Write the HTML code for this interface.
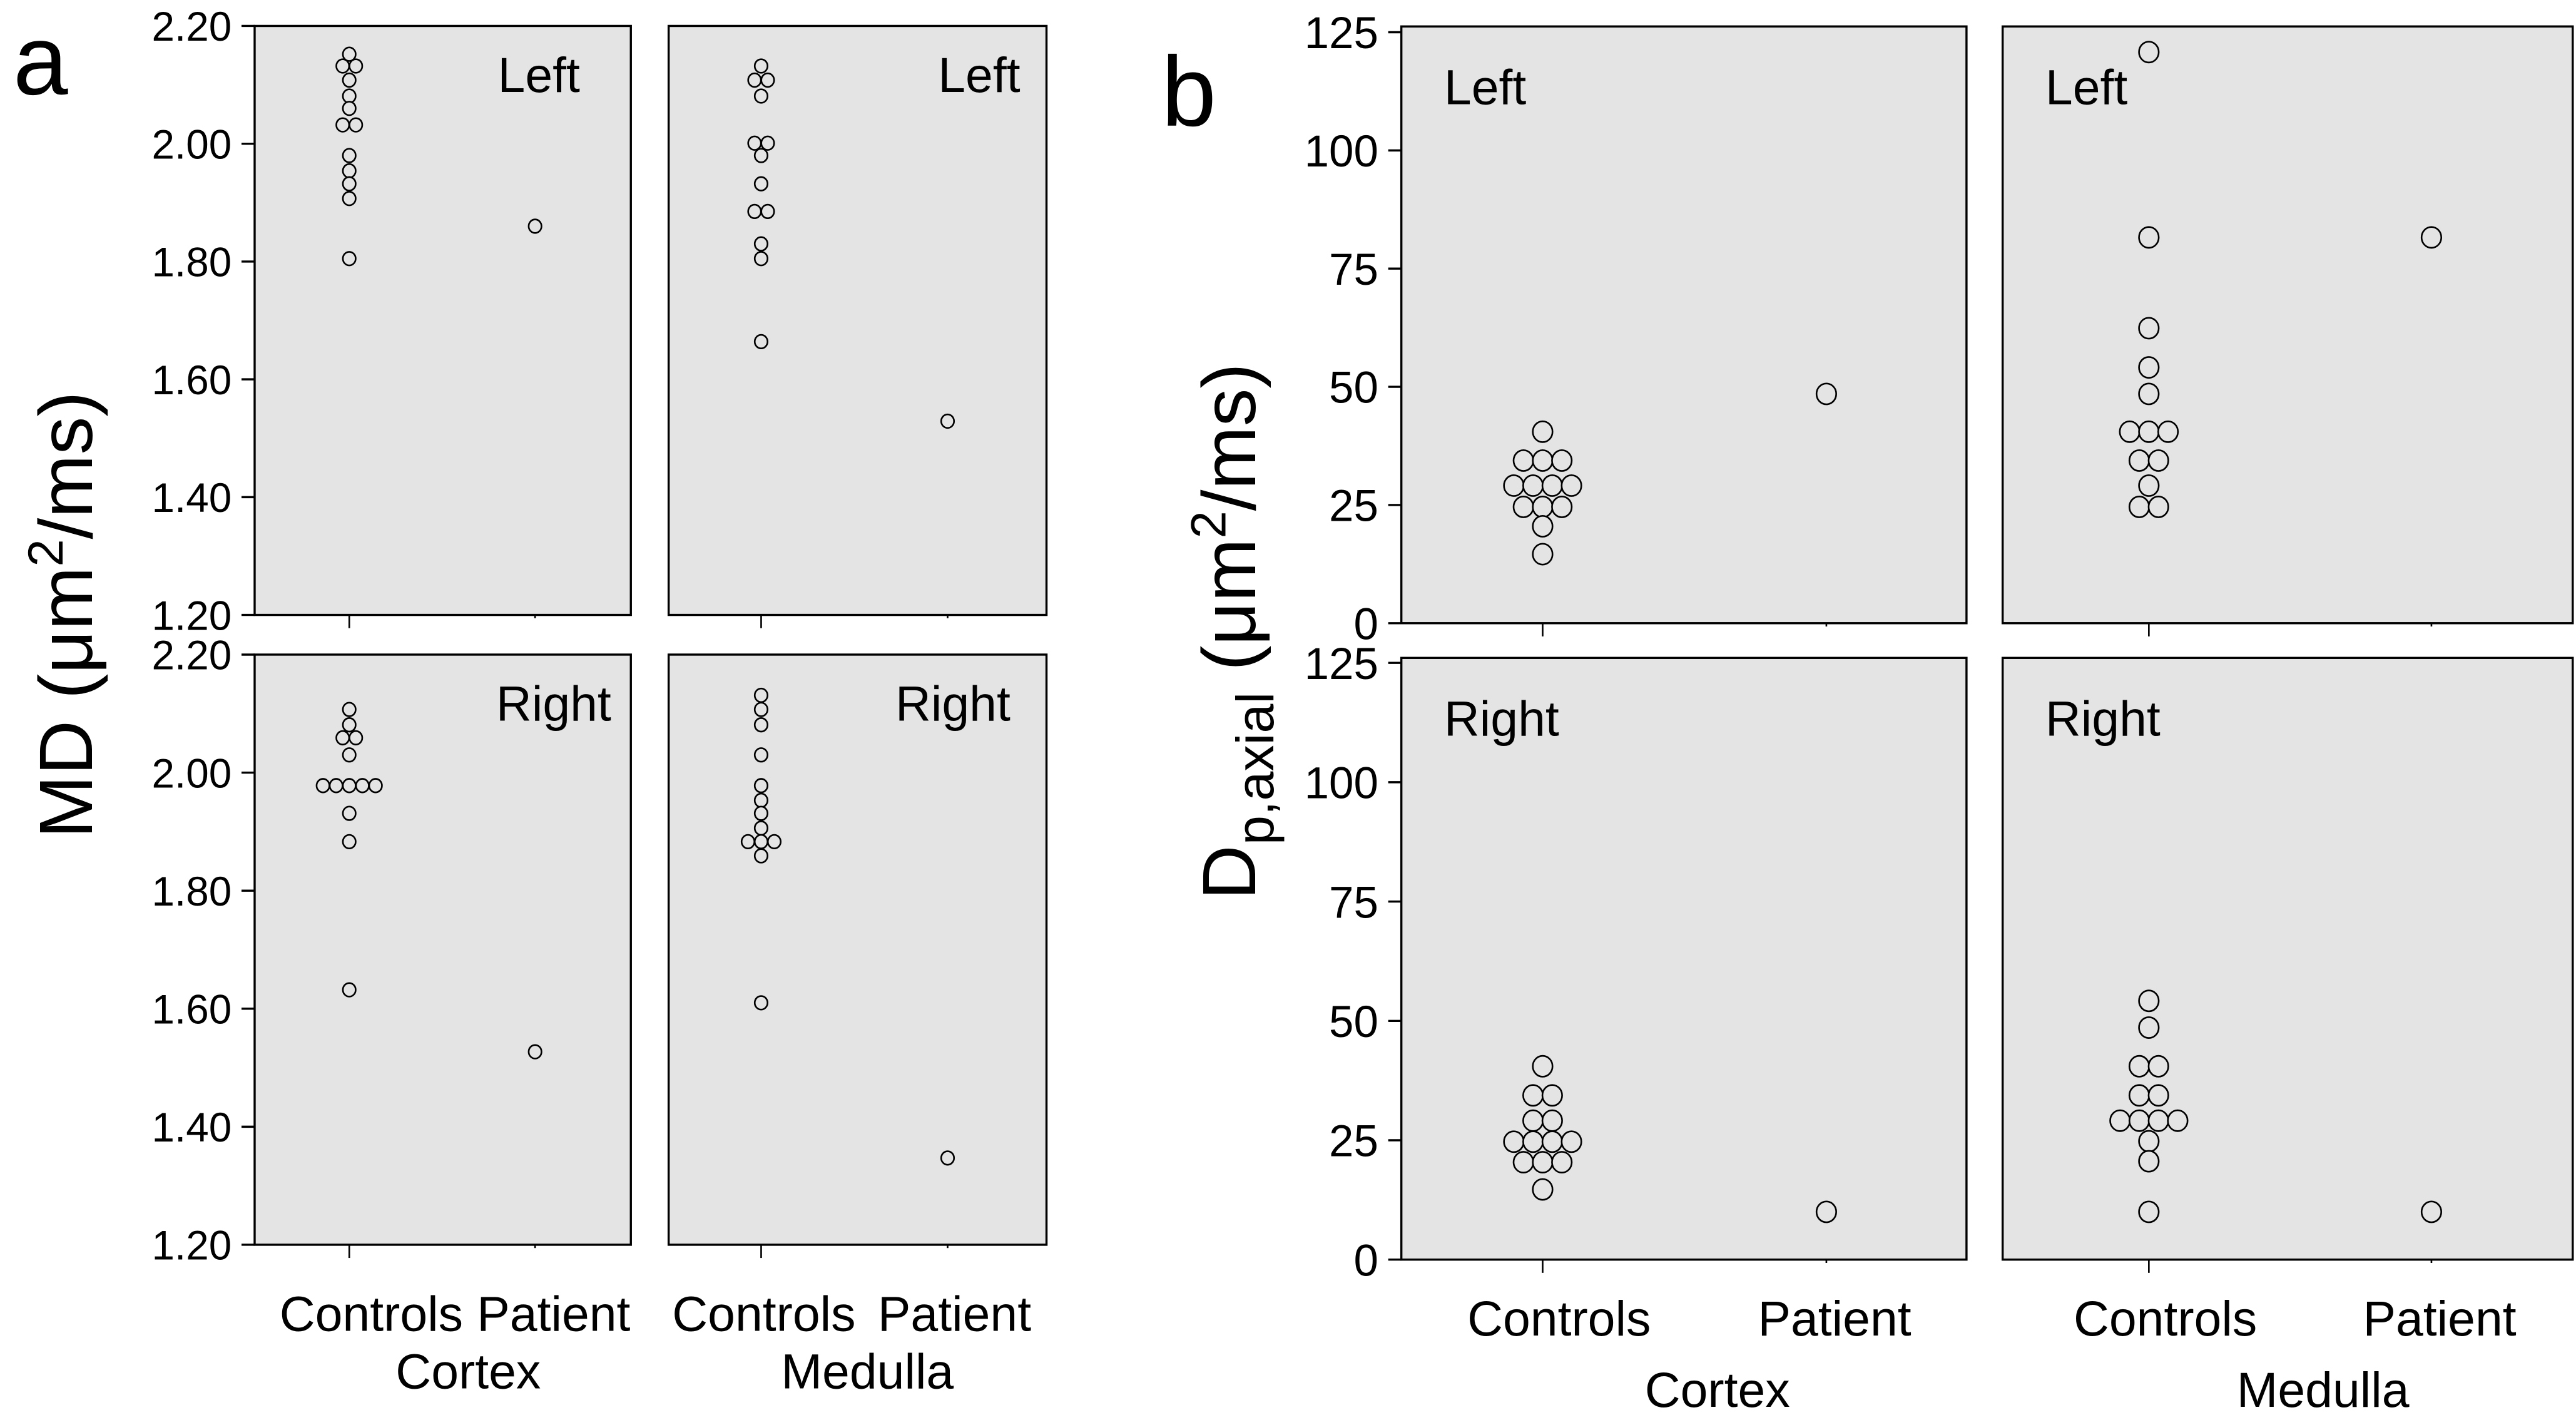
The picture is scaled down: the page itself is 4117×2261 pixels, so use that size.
<!DOCTYPE html>
<html><head><meta charset="utf-8"><style>
html,body{margin:0;padding:0;background:#fff}
svg{display:block}
text{font-family:"Liberation Sans",sans-serif;fill:#000}
</style></head><body>
<svg id="fig" width="4117" height="2261" viewBox="0 0 1568 856" preserveAspectRatio="none" xmlns="http://www.w3.org/2000/svg"></svg>
<script>
// ---- Data ----
const groups = ["Controls", "Patient"];
const regions = ["Cortex", "Medulla"];
const sides = ["Left", "Right"];
const mdTicks = [1.20, 1.40, 1.60, 1.80, 2.00, 2.20];
const dpTicks = [0, 25, 50, 75, 100, 125];
// MD (panel a)
const mdCortexLeftControls = [2.152, 2.132, 2.132, 2.108, 2.081, 2.060, 2.032, 2.032, 1.980, 1.954, 1.932, 1.907, 1.805];
const mdCortexLeftPatient = [1.860];
const mdMedullaLeftControls = [2.132, 2.108, 2.108, 2.081, 2.001, 2.001, 1.980, 1.932, 1.885, 1.885, 1.830, 1.805, 1.664];
const mdMedullaLeftPatient = [1.529];
const mdCortexRightControls = [2.107, 2.081, 2.059, 2.059, 2.030, 1.978, 1.978, 1.978, 1.978, 1.978, 1.931, 1.883, 1.632];
const mdCortexRightPatient = [1.527];
const mdMedullaRightControls = [2.131, 2.107, 2.081, 2.030, 1.978, 1.953, 1.931, 1.906, 1.883, 1.883, 1.883, 1.859, 1.610];
const mdMedullaRightPatient = [1.347];
// Dp,axial (panel b)
const dpCortexLeftControls = [40.5, 34.4, 34.4, 34.4, 29.1, 29.1, 29.1, 29.1, 24.6, 24.6, 24.6, 20.5, 14.6];
const dpCortexLeftPatient = [48.5];
const dpMedullaLeftControls = [120.8, 81.6, 62.4, 54.1, 48.5, 40.5, 40.5, 40.5, 34.4, 34.4, 29.1, 24.6, 24.6];
const dpMedullaLeftPatient = [81.6];
const dpCortexRightControls = [40.5, 34.4, 34.4, 29.1, 29.1, 24.7, 24.7, 24.7, 24.7, 20.4, 20.4, 20.4, 14.7];
const dpCortexRightPatient = [10.0];
const dpMedullaRightControls = [54.2, 48.6, 40.5, 40.5, 34.4, 34.4, 29.1, 29.1, 29.1, 29.1, 24.8, 20.6, 10.0];
const dpMedullaRightPatient = [10.0];

const NS = "http://www.w3.org/2000/svg";
const svg = document.getElementById("fig");
function mk(tag, attrs, parent) {
  const e = document.createElementNS(NS, tag);
  for (const k in attrs) e.setAttribute(k, attrs[k]);
  (parent || svg).appendChild(e);
  return e;
}
function txt(s, attrs, parent) { const t = mk("text", attrs, parent); t.textContent = s; return t; }

function linScale(d0, d1, r0, r1) { return v => r0 + (v - d0) * (r1 - r0) / (d1 - d0); }

function drawPanel(cfg) {
  const g = mk("g", {});
  
  
  const bg = mk("rect", {x: cfg.x0, y: cfg.y0, width: cfg.x1 - cfg.x0, height: cfg.y1 - cfg.y0, fill: "#e4e4e4", stroke: "#000", "stroke-width": 1.3}, g);
  
  
  const y = linScale(cfg.dmin, cfg.dmax, cfg.y1, cfg.yTop);
  const xs = [cfg.xc, cfg.xp];
  xs.forEach((xx, i) => {
    const t = mk("line", {x1: xx, x2: xx, y1: cfg.y1, y2: cfg.y1 + (i === 0 ? 8 : 2), stroke: "#000", "stroke-width": 1}, g);
    
    
  });
  const lab = txt(cfg.side, {x: cfg.labX, y: cfg.labY, "font-size": cfg.labSize, "text-anchor": "start"}, g);
  
  
  [cfg.controls, cfg.patient].forEach((vals, gi) => {
    const counts = {};
    vals.forEach(v => { counts[v] = (counts[v] || 0) + 1; });
    const seen = {};
    vals.forEach(v => {
      const n = counts[v]; const k = seen[v] || 0; seen[v] = k + 1;
      const cx = xs[gi] + (k - (n - 1) / 2) * cfg.sp;
      const c = mk("ellipse", {cx: cx, cy: y(v), rx: cfg.r, ry: cfg.r * 1.05, fill: "#e4e4e4", stroke: "#000", "stroke-width": 1}, g);
      
      
    });
  });
  return y;
}

function yAxis(ticks, y, xAxis, fmt, size, name) {
  const g = mk("g", {});
  
  
  ticks.forEach(t => {
    mk("line", {x1: xAxis - 8, x2: xAxis, y1: y(t), y2: y(t), stroke: "#000", "stroke-width": 1.3}, g);
    const l = txt(fmt(t), {x: xAxis - 14, y: y(t) + size * 0.36, "font-size": size, "text-anchor": "end"}, g);
    
    
  });
}

// ---- Panel a ----
const aCols = [{x0: 155, x1: 384, xc: 212.6, xp: 325.7, lc: 226, lp: 337, lr: 285},
               {x0: 407, x1: 637, xc: 463.3, xp: 576.8, lc: 465, lp: 581, lr: 528}];
const aRows = [{y0: 15.7, y1: 372, yTop: 15.7}, {y0: 396, y1: 753, yTop: 396}];
const aLabX = [[303, 571], [302, 545]];
const mdData = [[[mdCortexLeftControls, mdCortexLeftPatient], [mdMedullaLeftControls, mdMedullaLeftPatient]],
                [[mdCortexRightControls, mdCortexRightPatient], [mdMedullaRightControls, mdMedullaRightPatient]]];
aRows.forEach((r, ri) => {
  let ys;
  aCols.forEach((c, ci) => {
    ys = drawPanel({name: "md-" + regions[ci].toLowerCase() + "-" + sides[ri].toLowerCase() + "-panel",
      x0: c.x0, x1: c.x1, y0: r.y0, y1: r.y1, yTop: r.yTop, dmin: 1.2, dmax: 2.2,
      xc: c.xc, xp: c.xp, controls: mdData[ri][ci][0], patient: mdData[ri][ci][1],
      side: sides[ri], labX: aLabX[ri][ci], labY: r.y0 + 40, labSize: 30, r: 3.9, sp: 8});
    if (ci === 0) yAxis(mdTicks, ys, c.x0, v => v.toFixed(2), 25, "md-y-axis-" + sides[ri].toLowerCase());
  });
});
aCols.forEach((c, ci) => {
  const t1 = txt("Controls", {x: c.lc, y: 805, "font-size": 30, "text-anchor": "middle"});
   
  const t2 = txt("Patient", {x: c.lp, y: 805, "font-size": 30, "text-anchor": "middle"});
   
  const t3 = txt(regions[ci], {x: c.lr, y: 840, "font-size": 30, "text-anchor": "middle"});
   
});
const aLetter = txt("a", {x: 8, y: 57, "font-size": 60});
 
const mdTitle = txt("", {transform: "translate(56,372) rotate(-90)", "font-size": 46, "text-anchor": "middle"});
mdTitle.innerHTML = 'MD (μm<tspan font-size="30" dy="-18">2</tspan><tspan dy="18">/ms)</tspan>';
 

// ---- Panel b ----
const bCols = [{x0: 853, x1: 1197, xc: 939, xp: 1111.7}, {x0: 1219, x1: 1566, xc: 1308, xp: 1480}];
const bRows = [{y0: 16, y1: 377, yTop: 19.5}, {y0: 398, y1: 762, yTop: 401}];
const dpData = [[[dpCortexLeftControls, dpCortexLeftPatient], [dpMedullaLeftControls, dpMedullaLeftPatient]],
                [[dpCortexRightControls, dpCortexRightPatient], [dpMedullaRightControls, dpMedullaRightPatient]]];
bRows.forEach((r, ri) => {
  let ys;
  bCols.forEach((c, ci) => {
    ys = drawPanel({name: "dp-" + regions[ci].toLowerCase() + "-" + sides[ri].toLowerCase() + "-panel",
      x0: c.x0, x1: c.x1, y0: r.y0, y1: r.y1, yTop: r.yTop, dmin: 0, dmax: 125,
      xc: c.xc, xp: c.xp, controls: dpData[ri][ci][0], patient: dpData[ri][ci][1],
      side: sides[ri], labX: c.x0 + 26, labY: r.y0 + 47, labSize: 30, r: 6, sp: 11.7});
    if (ci === 0) yAxis(dpTicks, ys, c.x0, v => String(v), 27, "dp-y-axis-" + sides[ri].toLowerCase());
  });
});
bCols.forEach((c, ci) => {
  const t1 = txt("Controls", {x: c.xc + 10, y: 808, "font-size": 30, "text-anchor": "middle"});
   
  const t2 = txt("Patient", {x: c.xp + 5, y: 808, "font-size": 30, "text-anchor": "middle"});
   
  const t3 = txt(regions[ci], {x: (c.xc + c.xp) / 2 + 20, y: 851, "font-size": 30, "text-anchor": "middle"});
   
});
const bLetter = txt("b", {x: 707, y: 76, "font-size": 60});
 
const dpTitle = txt("", {transform: "translate(764,382) rotate(-90)", "font-size": 46, "text-anchor": "middle"});
dpTitle.innerHTML = 'D<tspan font-size="32" dy="11">p,axial</tspan><tspan dy="-11"> (μm</tspan><tspan font-size="30" dy="-18">2</tspan><tspan dy="18">/ms)</tspan>';
 
</script>
</body></html>
